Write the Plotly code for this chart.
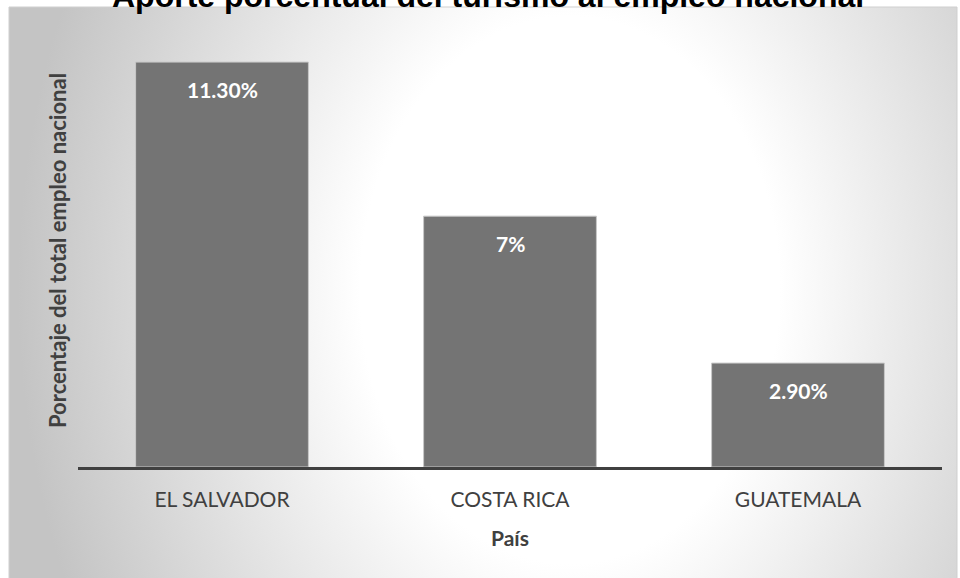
import base64
import plotly.graph_objects as go

categories = ["EL SALVADOR", "COSTA RICA", "GUATEMALA"]
values = [11.3, 7.0, 2.9]
value_labels = ["11.30%", "7%", "2.90%"]
title_text = "Aporte porcentual del turismo al empleo nacional"
y_title = "Porcentaje del total empleo nacional"
x_title = "País"

W, H = 960, 578
ML, MR, MT, MB = 78, 18, 37, 111
PW = W - ML - MR
PH = H - MT - MB


def px_x(x):
    return (x - ML) / PW


def px_y(y):
    return (H - MB - y) / PH


FONT = "Lato"
TXT = "#404040"

# background panel with radial gradient
panel_l, panel_t, panel_r, panel_b = 9, 7, 957, 592
pw, ph = panel_r - panel_l, panel_b - panel_t
cx, cy = 570 - panel_l, 290 - panel_t
svg = f'''<svg xmlns="http://www.w3.org/2000/svg" width="{pw}" height="{ph}" viewBox="0 0 {pw} {ph}" preserveAspectRatio="none">
<defs><radialGradient id="g" gradientUnits="userSpaceOnUse" cx="{cx}" cy="{cy}" r="600" gradientTransform="translate({cx} {cy}) scale(0.92 1.2) translate({-cx} {-cy})">
<stop offset="0" stop-color="#ffffff"/><stop offset="0.38" stop-color="#ffffff"/><stop offset="1" stop-color="#c4c4c4"/></radialGradient></defs>
<rect x="0" y="0" width="{pw}" height="{ph}" fill="url(#g)"/></svg>'''
src = "data:image/svg+xml;base64," + base64.b64encode(svg.encode()).decode()

fig = go.Figure(
    go.Bar(
        x=categories,
        y=values,
        width=0.6,
        marker=dict(color="#747474", line=dict(color="#c8c8c8", width=1)),
        hoverinfo="skip",
    )
)

annotations = []
for c, v, lab in zip(categories, values, value_labels):
    annotations.append(dict(x=c, y=v, xref="x", yref="y", text=f"<b>{lab}</b>", showarrow=False,
                            yshift=-27, yanchor="middle",
                            font=dict(family=FONT, size=21, color="white")))

annotations.append(dict(x=px_x(488), y=px_y(-4), xref="paper", yref="paper", text=f"<b>{title_text}</b>",
                        showarrow=False, xanchor="center", yanchor="middle",
                        font=dict(family="Liberation Sans, Arial", size=32, color="black")))
annotations.append(dict(x=px_x(58), y=px_y(251), xref="paper", yref="paper", text=f"<b>{y_title}</b>",
                        textangle=-90, showarrow=False, xanchor="center", yanchor="middle",
                        font=dict(family=FONT, size=22, color=TXT)))
annotations.append(dict(x=px_x(510), y=px_y(537), xref="paper", yref="paper", text=f"<b>{x_title}</b>",
                        showarrow=False, xanchor="center", yanchor="middle",
                        font=dict(family=FONT, size=21, color=TXT)))

fig.update_layout(
    width=W, height=H, autosize=False,
    margin=dict(l=ML, r=MR, t=MT, b=MB),
    paper_bgcolor="white",
    plot_bgcolor="rgba(0,0,0,0)",
    showlegend=False,
    bargap=0.4,
    annotations=annotations,
    images=[dict(source=src, xref="paper", yref="paper",
                 x=px_x(panel_l), y=px_y(panel_t),
                 sizex=px_x(panel_r) - px_x(panel_l), sizey=px_y(panel_t) - px_y(panel_b),
                 sizing="stretch", xanchor="left", yanchor="top", layer="below")],
    shapes=[dict(type="rect", xref="paper", yref="paper",
                 x0=px_x(panel_l), x1=px_x(panel_r), y0=px_y(panel_b), y1=px_y(panel_t),
                 line=dict(color="#cfcfcf", width=1), layer="below")],
    xaxis=dict(
        showline=True, linecolor="#404040", linewidth=3,
        ticks="", showgrid=False, zeroline=False,
        tickfont=dict(family=FONT, size=21, color=TXT),
        ticklabelstandoff=12,
        range=[-0.5, 2.5],
    ),
    yaxis=dict(visible=False, range=[0, 12], showgrid=False, zeroline=False),
)

fig.write_html("out.html")
